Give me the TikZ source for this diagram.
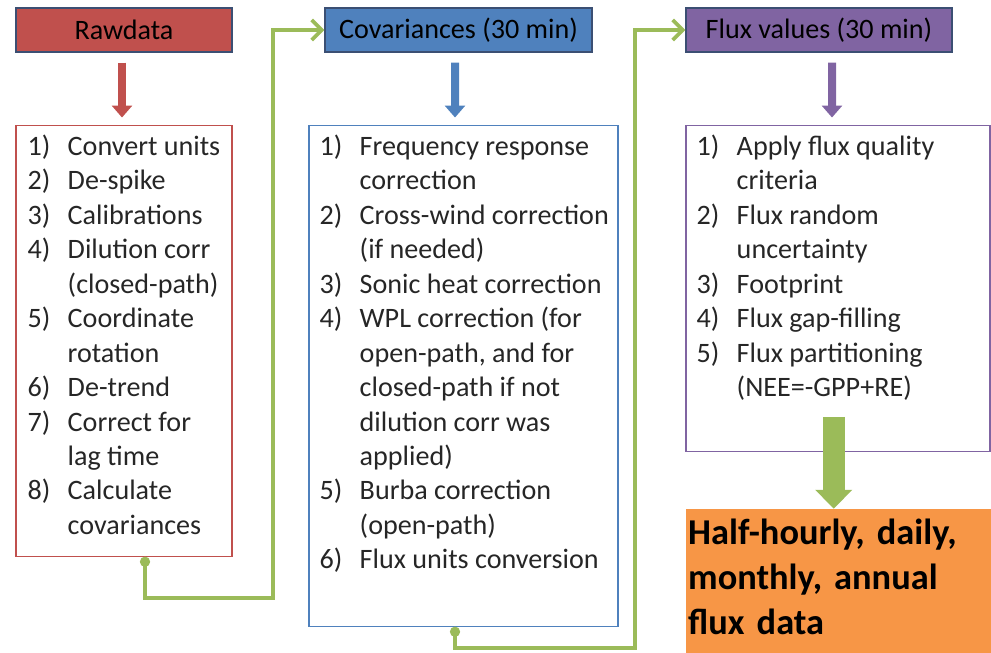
\documentclass[tikz,border=0pt]{standalone}
\usepackage{fontspec}
\setmainfont{Carlito}
\usetikzlibrary{arrows.meta, positioning}
\definecolor{rawRed}{HTML}{C0504D}
\definecolor{covBlue}{HTML}{4F81BD}
\definecolor{fluxPurple}{HTML}{8064A2}
\definecolor{linkGreen}{HTML}{9BBB59}
\definecolor{resultOrange}{HTML}{F79646}
\definecolor{headLine}{HTML}{3B4F73}
\definecolor{textDark}{HTML}{262626}
\newcommand{\stepno}[1]{\makebox[0.8cm][l]{#1}}
\newcommand{\stepcont}{\hspace*{0.8cm}}
\tikzset{
  headbox/.style={draw=headLine, line width=0.6pt, minimum width=5.34cm, minimum height=0.88cm, inner sep=0pt, font=\fontsize{16}{19.6}\selectfont, text=black},
  listbox/.style={draw, line width=0.7pt, minimum width=4.32cm, minimum height=8.62cm, inner sep=0pt},
  listtext/.style={anchor=north west, inner sep=0pt, align=left, text=textDark, font=\fontsize{16}{19.6}\selectfont},
  resultbox/.style={fill=resultOrange, text width=6cm, align=left, inner xsep=0.05cm, inner ysep=0.2cm, font=\bfseries\fontsize{20.7}{25.6}\selectfont, text=black},
  downarr/.style={line width=0.16cm, -{Triangle[length=0.24cm, width=0.4cm]}},
  bigarr/.style={linkGreen, line width=0.44cm, -{Triangle[length=0.38cm, width=0.72cm]}},
  flowlink/.style={linkGreen, line width=2.2pt, {Circle[length=0.2cm]}-{Straight Barb[length=0.2cm, width=0.4cm]}},
}

\begin{document}
\begin{tikzpicture}
  \useasboundingbox (0,0) rectangle (19.82,-13.04);
  % stage headers
  \node[headbox, fill=rawRed, minimum width=4.32cm] (rawhead) at (2.48,-0.6) {Rawdata};
  \node[headbox, fill=covBlue] (covhead) at (9.17,-0.6) {Covariances (30 min)};
  \node[headbox, fill=fluxPurple, minimum width=5.32cm] (fluxhead) at (16.38,-0.6) {Flux values (30 min)};
  % processing steps
  \node[listbox, draw=rawRed, below=1.44cm of rawhead] (rawbox) {};
  \node[listbox, draw=covBlue, minimum width=6.18cm, minimum height=10.02cm, below=1.44cm of covhead, xshift=0.1cm] (covbox) {};
  \node[listbox, draw=fluxPurple, minimum width=6.08cm, minimum height=6.52cm, below=1.44cm of fluxhead, xshift=0.38cm] (fluxbox) {};
  \node[listtext] (rawsteps) at ([shift={(0.24,-0.2)}]rawbox.north west)
    {\stepno{1)}Convert units\\ \stepno{2)}De-spike\\ \stepno{3)}Calibrations\\
     \stepno{4)}Dilution corr\\ \stepcont(closed-path)\\ \stepno{5)}Coordinate\\ \stepcont rotation\\
     \stepno{6)}De-trend\\ \stepno{7)}Correct for\\ \stepcont lag time\\
     \stepno{8)}Calculate\\ \stepcont covariances};
  \node[listtext] (covsteps) at ([shift={(0.22,-0.2)}]covbox.north west)
    {\stepno{1)}Frequency response\\ \stepcont correction\\
     \stepno{2)}Cross-wind correction\\ \stepcont(if needed)\\
     \stepno{3)}Sonic heat correction\\
     \stepno{4)}WPL correction (for\\ \stepcont open-path, and for\\ \stepcont closed-path if not\\ \stepcont dilution corr was\\ \stepcont applied)\\
     \stepno{5)}Burba correction\\ \stepcont(open-path)\\
     \stepno{6)}Flux units conversion};
  \node[listtext] (fluxsteps) at ([shift={(0.22,-0.2)}]fluxbox.north west)
    {\stepno{1)}Apply flux quality\\ \stepcont criteria\\
     \stepno{2)}Flux random\\ \stepcont uncertainty\\
     \stepno{3)}Footprint\\ \stepno{4)}Flux gap-filling\\
     \stepno{5)}Flux partitioning\\ \stepcont(NEE=-GPP+RE)};
  \node[resultbox, anchor=north west] (result) at ([yshift=-1.14cm]fluxbox.south west)
    {Half-hourly, daily,\\ monthly, annual\\ flux data\rule[-0.35cm]{0pt}{0.1pt}};
  % arrows
  \draw[downarr, rawRed] ([xshift=-0.04cm, yshift=-0.2cm]rawhead.south) -- ([xshift=-0.04cm, yshift=0.14cm]rawbox.north);
  \draw[downarr, covBlue] ([xshift=-0.07cm, yshift=-0.2cm]covhead.south) -- ([xshift=-0.17cm, yshift=0.14cm]covbox.north);
  \draw[downarr, fluxPurple] ([xshift=0.26cm, yshift=-0.2cm]fluxhead.south) -- ([xshift=-0.12cm, yshift=0.14cm]fluxbox.north);
  \draw[bigarr] ([xshift=-0.09cm, yshift=1.84cm]result.north) -- ([xshift=-0.09cm]result.north);
  \coordinate (bendA) at (5.46,-11.96);
  \coordinate (bendB) at (12.70,-12.96);
  \draw[flowlink] ([xshift=0.42cm]rawbox.south) |- (bendA) |- (covhead.west);
  \draw[flowlink] ([xshift=-0.17cm]covbox.south) |- (bendB) |- (fluxhead.west);
\end{tikzpicture}
\end{document}
